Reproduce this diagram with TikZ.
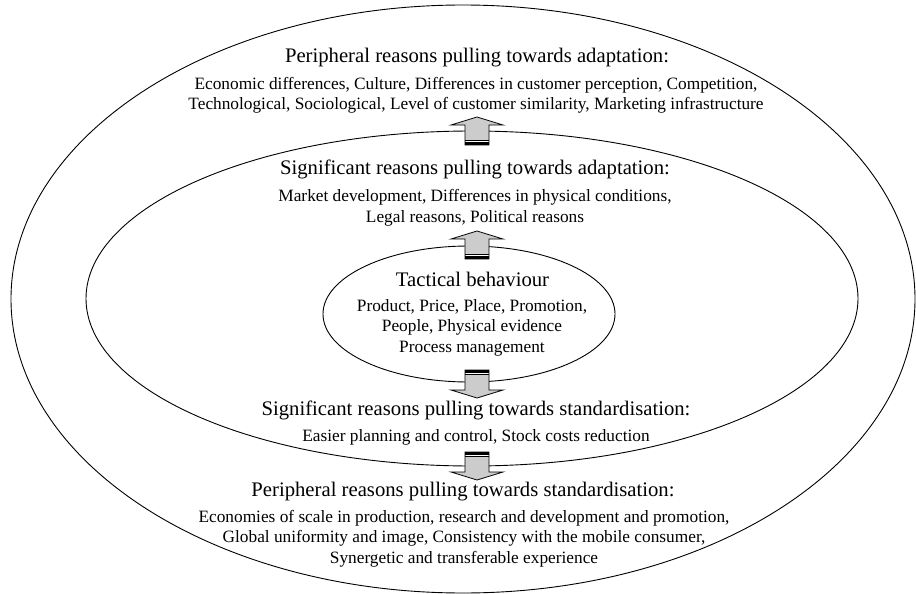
\documentclass[tikz,border=0pt]{standalone}
\usepackage{fontspec}
\setmainfont{Liberation Serif}
\usetikzlibrary{shapes.geometric}
\definecolor{arrowgray}{RGB}{204,204,204}
\tikzset{
  ring/.style={draw, ellipse, line width=0.9pt, inner sep=0pt},
  headtext/.style={inner sep=0pt, anchor=base, font=\fontsize{20.7}{24}\selectfont},
  bodytext/.style={inner sep=0pt, anchor=base, font=\fontsize{17.3}{20.5}\selectfont},
  blockarrow/.pic={
    \fill[arrowgray] (-12,0) -- (-12,-20) -- (-26,-20) -- (0,-28) -- (26,-20) -- (12,-20) -- (12,0) -- cycle;
    \fill[black] (-12,0) rectangle (12,-3);
    \fill[white] (-11.5,-3) rectangle (11.5,-4);
    \draw[line width=0.6pt] (-12,-4.4) -- (12,-4.4);
    \draw[line width=0.8pt, line join=miter] (-12,0) -- (-12,-20) -- (-26,-20) -- (0,-28) -- (26,-20) -- (12,-20) -- (12,0) -- cycle;
  }
}
\begin{document}
\begin{tikzpicture}[x=1pt, y=-1pt]
\useasboundingbox (0,0) rectangle (916,594);
% rings
\node[ring, minimum width=904pt, minimum height=588pt] (outer) at (463,299) {};
\node[ring, minimum width=772pt, minimum height=335pt] (middle) at (472,298.5) {};
\node[ring, minimum width=292pt, minimum height=136pt] (inner) at (469,314) {};
% arrows
\pic at (477,145) {blockarrow};
\pic at (477,259) {blockarrow};
\pic[rotate=180] at (477,370) {blockarrow};
\pic[rotate=180] at (477,452) {blockarrow};
% texts: outer ring, adaptation
\node[headtext] (t1) at (477,62.7) {Peripheral reasons pulling towards adaptation:};
\node[bodytext] (b1a) at (476,89) {Economic differences, Culture, Differences in customer perception, Competition,};
\node[bodytext] (b1b) at (476,109.5) {Technological, Sociological, Level of customer similarity, Marketing infrastructure};
% middle ring, adaptation
\node[headtext] (t2) at (475,174.3) {Significant reasons pulling towards adaptation:};
\node[bodytext] (b2a) at (475,201.7) {Market development, Differences in physical conditions,};
\node[bodytext] (b2b) at (475,222.2) {Legal reasons, Political reasons};
% inner ring
\node[headtext] (t3) at (472.5,286) {Tactical behaviour};
\node[bodytext] (b3a) at (472,311) {Product, Price, Place, Promotion,};
\node[bodytext] (b3b) at (472,331.7) {People, Physical evidence};
\node[bodytext] (b3c) at (472,352.3) {Process management};
% middle ring, standardisation
\node[headtext] (t4) at (476,415) {Significant reasons pulling towards standardisation:};
\node[bodytext] (b4) at (476,441) {Easier planning and control, Stock costs reduction};
% outer ring, standardisation
\node[headtext] (t5) at (463,496.7) {Peripheral reasons pulling towards standardisation:};
\node[bodytext] (b5a) at (464,522.3) {Economies of scale in production, research and development and promotion,};
\node[bodytext] (b5b) at (464,542.7) {Global uniformity and image, Consistency with the mobile consumer,};
\node[bodytext] (b5c) at (464,563.2) {Synergetic and transferable experience};
\end{tikzpicture}
\end{document}
